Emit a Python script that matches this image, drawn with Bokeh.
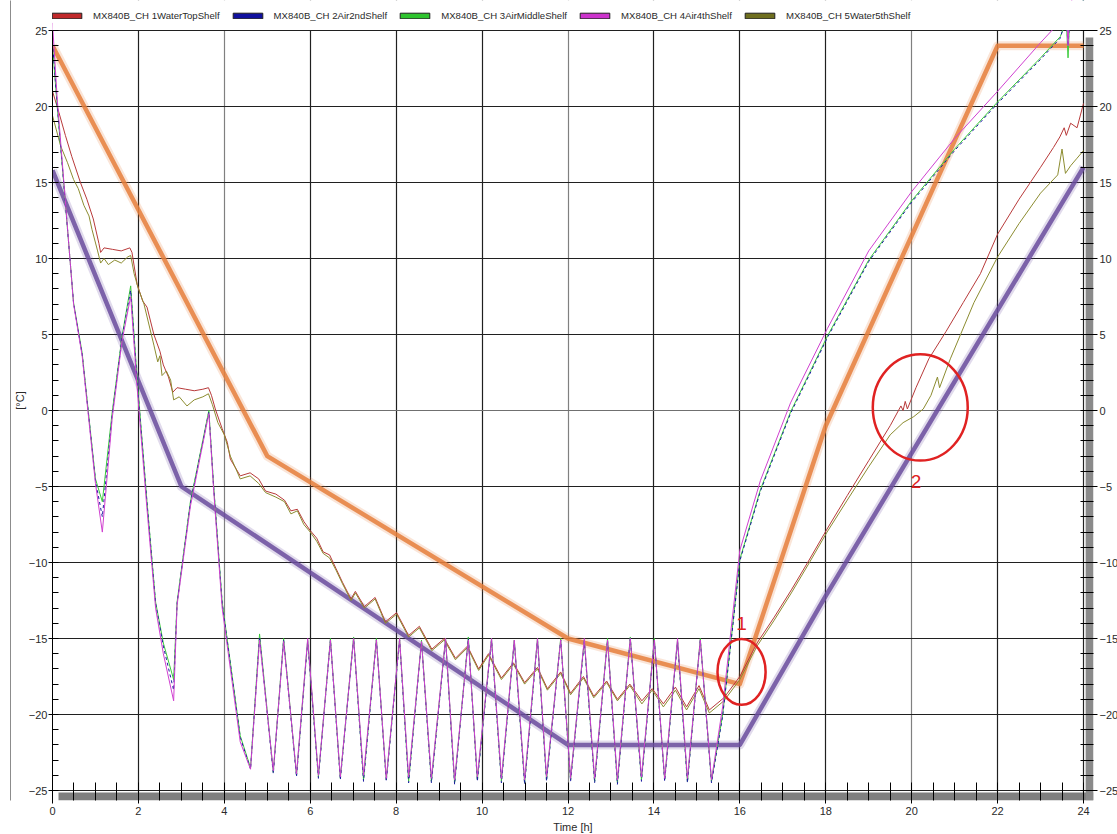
from bokeh.plotting import figure
from bokeh.models import (Legend, LegendItem, LinearAxis, SingleIntervalTicker,
                          Grid, FixedTicker, BoxAnnotation, Range1d)
from bokeh.core.properties import value
from bokeh.embed import file_html
from bokeh.resources import INLINE

FONT = "Liberation Sans"
NAN = float("nan")

# ---------------- data ----------------
channel_names = ["MX840B_CH 1WaterTopShelf", "MX840B_CH 2Air2ndShelf", "MX840B_CH 3AirMiddleShelf",
                 "MX840B_CH 4Air4thShelf", "MX840B_CH 5Water5thShelf"]
channel_colors = ["#C0282A", "#10109E", "#2EC42E", "#CC33CC", "#6E6E1E"]

# set-point profiles (thick lines)
orange_t = [0, 5, 12, 16, 18, 22, 24]
orange_T = [24, -3, -15, -18, -1, 24, 24]
purple_t = [0, 3, 12, 16, 18, 24]
purple_T = [15.8, -5, -22, -22, -12.2, 16]

# water channel 1 (top shelf)
red_t = [0.0, 0.15, 0.3, 0.45, 0.65, 0.8, 0.95, 1.08, 1.12, 1.2, 1.4, 1.6, 1.8, 1.85, 1.97, 2.1, 2.2,
         2.36, 2.5, 2.58, 2.7, 2.8, 2.9, 3.1, 3.3, 3.5, 3.63, 3.7, 3.79, 3.95, 4.07, 4.14, 4.37, 4.6,
         4.8, 4.96, 5.2, 5.4, 5.55, 5.7, 5.85, 6.0, 6.15, 6.3, 6.45, 6.6, 6.75, 6.95, 7.05,
         7.26, 7.51, 7.75, 8.01, 8.29, 8.54, 8.83, 9.12, 9.38, 9.66, 9.92, 10.15, 10.45, 10.73,
         10.99, 11.29, 11.52, 11.83, 12.06, 12.36, 12.60, 12.90, 13.15, 13.44, 13.72, 13.96, 14.22,
         14.50, 14.76, 15.05, 15.29, 15.63, 16.0, 16.4, 16.8, 17.2, 17.6, 18.03, 18.5, 19.0, 19.5,
         19.75, 19.8, 19.85, 19.9, 20.1, 20.4, 20.8, 21.2, 21.6, 22.0, 22.5, 23.0, 23.3, 23.45,
         23.55, 23.6, 23.7, 23.85, 24.0]
red_T = [21.0, 19.6, 18.1, 16.7, 15.0, 13.9, 12.6, 11.0, 10.4, 10.7, 10.6, 10.5, 10.7, 10.4, 8.3, 7.2, 6.8,
         5.0, 3.9, 3.0, 2.2, 1.2, 1.5, 1.4, 1.3, 1.4, 1.5, 1.0, 0.1, -1.2, -2.1, -3.2, -4.3, -4.1,
         -4.5, -5.3, -5.5, -5.9, -6.6, -6.5, -7.3, -7.9, -8.4, -9.3, -9.5, -10.4, -11.3, -12.4, -11.9,
         -12.9, -12.3, -13.9, -13.3, -14.8, -14.2, -15.7, -15.0, -16.3, -15.5, -17.0, -16.0, -17.6, -16.6,
         -17.9, -16.9, -18.3, -17.2, -18.6, -17.5, -18.8, -17.8, -19.0, -18.0, -19.1, -18.3, -19.3,
         -18.2, -19.5, -18.1, -19.7, -18.9, -17.5, -15.3, -13.6, -11.8, -9.9, -7.8, -5.6, -3.3, -1.0,
         0.3, 0.0, 0.6, 0.1, 1.5, 3.4, 5.2, 7.1, 9.0, 11.6, 13.9, 16.0, 17.3, 18.0,
         18.6, 18.1, 18.9, 18.6, 20.2]

# water channel 5 (5th shelf)
olive_t = [0.0, 0.19, 0.35, 0.49, 0.6, 0.73, 0.85, 0.92, 1.05, 1.12, 1.2, 1.3, 1.45, 1.6, 1.75, 1.82,
           1.9, 2.0, 2.13, 2.36, 2.45, 2.5, 2.55, 2.65, 2.75, 2.82, 2.95, 3.13, 3.3, 3.5, 3.63, 3.72,
           3.85, 4.0, 4.14, 4.37, 4.6, 4.8, 4.96, 5.2, 5.4, 5.55, 5.7, 5.85, 6.0, 6.15, 6.3, 6.45,
           6.6, 6.75, 6.95, 7.05, 7.26, 7.51, 7.75, 8.01, 8.29, 8.54, 8.83, 9.12, 9.38, 9.66, 9.92,
           10.15, 10.45, 10.73, 10.99, 11.29, 11.52, 11.83, 12.06, 12.36, 12.60, 12.90, 13.15, 13.44,
           13.72, 13.96, 14.22, 14.50, 14.76, 15.05, 15.29, 15.63, 16.0, 16.4, 16.8, 17.2, 17.6, 18.03,
           18.5, 19.0, 19.5, 19.8, 20.05, 20.27, 20.45, 20.6, 20.65, 20.9, 21.45, 22.0, 22.5, 23.0,
           23.4, 23.5, 23.58, 23.7, 23.85, 24.0]
olive_T = [19.4, 17.4, 16.3, 15.2, 14.6, 13.5, 12.8, 11.9, 10.5, 9.7, 10.0, 9.6, 9.9, 9.7, 10.1, 10.2,
           9.0, 8.0, 7.0, 4.3, 3.2, 3.6, 2.3, 2.6, 2.0, 0.7, 0.9, 0.3, 0.7, 0.9, 1.1, 0.4,
           -0.8, -1.6, -3.0, -4.5, -4.3, -4.8, -5.4, -5.7, -6.0, -6.8, -6.6, -7.5, -8.0, -8.6, -9.4, -9.7,
           -10.5, -11.4, -12.5, -12.0, -13.0, -12.4, -14.0, -13.4, -14.9, -14.3, -15.8, -15.1, -16.4, -15.6, -17.1,
           -16.1, -17.7, -16.7, -18.0, -17.0, -18.4, -17.3, -18.7, -17.6, -18.9, -17.9, -19.1, -18.1,
           -19.3, -18.4, -19.5, -18.4, -19.7, -18.3, -19.9, -19.1, -17.7, -15.5, -13.8, -12.0, -10.1, -8.0,
           -5.9, -3.7, -1.6, -0.8, -0.4, 0.1, 1.0, 2.2, 1.5, 3.4, 7.1, 10.1, 12.3, 14.3,
           15.5, 17.2, 15.6, 16.1, 16.6, 17.1]

# air channels 2, 3, 4 (shared sample times)
air_t = [0.0, 0.11, 0.26, 0.49, 0.69, 1.0, 1.16, 1.39, 1.62, 1.82, 1.97, 2.2, 2.4, 2.58, 2.82, 2.9,
         3.21, 3.64, 3.75, 3.95, 4.37,
         4.61, 4.82, 5.14, 5.38, 5.68, 5.94, 6.19, 6.47, 6.70, 7.01, 7.24, 7.54, 7.77, 8.08, 8.29,
         8.59, 8.82, 9.15, 9.36, 9.68, 9.89, 10.22, 10.45, 10.75, 10.99, 11.29, 11.50, 11.83, 12.06,
         12.38, 12.62, 12.92, 13.15, 13.45, 13.71, 14.01, 14.25, 14.55, 14.78, 15.08, 15.34,
         15.6, 15.8, 16.0, 16.48, 17.18, 18.04, 19.0, 20.0, 21.0, 22.0, 23.0, 23.46, 23.6, 23.64,
         23.68, 24.0]
green_T = [24.0, 20.0, 15.0, 7.1, 3.8, -4.5, -6.0, -0.1, 4.9, 8.2, 2.1, -6.0, -12.6, -15.3, -17.7, -12.6,
           -6.0, 0.0, -4.9, -12.6, -21.4,
           -23.5, -14.7, -23.8, -15.0, -24.0, -15.1, -24.1, -15.0, -24.2, -14.9, -24.3, -15.0, -24.3, -15.0, -24.4,
           -15.1, -24.4, -15.0, -24.5, -14.9, -24.3, -15.0, -24.4, -15.1, -24.5, -15.0, -24.3, -15.0, -24.3,
           -15.1, -24.4, -15.0, -24.5, -14.9, -24.3, -15.0, -24.3, -15.1, -24.4, -15.0, -24.4,
           -20.0, -15.0, -9.8, -5.2, -0.1, 4.9, 9.9, 13.8, 17.2, 20.3, 23.2, 24.6, 25.6, 23.2,
           25.8, 27.0]
blue_T = [24.2, 20.1, 15.0, 7.1, 3.7, -4.6, -7.0, -0.3, 4.8, 7.9, 1.9, -6.1, -12.7, -15.5, -18.4, -12.7,
          -6.1, -0.1, -5.0, -12.7, -21.5,
          -23.6, -14.9, -23.9, -15.1, -24.1, -15.2, -24.2, -15.1, -24.3, -15.0, -24.4, -15.1, -24.4, -15.1, -24.5,
          -15.2, -24.5, -15.1, -24.6, -15.0, -24.4, -15.1, -24.5, -15.2, -24.6, -15.1, -24.4, -15.1, -24.4,
          -15.2, -24.5, -15.1, -24.6, -15.0, -24.4, -15.1, -24.4, -15.2, -24.5, -15.1, -24.5,
          -20.1, -15.1, -9.9, -5.3, -0.2, 4.8, 9.8, 13.7, 17.1, 20.2, 23.1, 24.5, 25.9, 24.0,
          25.9, 27.0]
magenta_T = [25.5, 20.5, 15.2, 7.0, 3.6, -4.8, -8.0, -0.5, 4.6, 7.5, 1.5, -6.5, -13.0, -16.0, -19.1, -12.8,
             -6.3, -0.2, -5.2, -13.0, -21.8,
             -23.6, -15.1, -23.7, -15.2, -23.9, -15.0, -24.0, -15.1, -24.1, -15.0, -24.0, -15.1, -24.2, -15.0, -24.1,
             -15.2, -24.2, -15.0, -24.3, -15.1, -24.1, -15.0, -24.2, -15.1, -24.3, -15.0, -24.1, -15.1, -24.2,
             -15.0, -24.2, -15.1, -24.3, -15.0, -24.1, -15.1, -24.2, -15.0, -24.2, -15.1, -24.3,
             -19.5, -14.3, -9.2, -4.6, 0.5, 5.4, 10.5, 14.4, 17.9, 21.0, 24.2, 25.6, 26.5, 24.0,
             26.8, 28.0]

# hand-drawn red marks
circle_t = [16.04, 20.2]
circle_T = [-17.2, 0.2]
circle_w = [1.12, 2.21]
circle_h = [4.34, 7.0]
mark_t = [16.04, 20.1]
mark_T = [-14.0, -4.7]
mark_text = ["1", "2"]

# axis ticks / grid
x_dark_grid = [2, 6, 8, 10, 14, 16, 18, 22, 24]
x_grey_grid = [4, 12, 20]
y_dark_grid = [-25, -20, -15, -10, -5, 5, 10, 15, 20, 25]
y_grey_grid = [0]

# ---------------- figure ----------------
# frame = data area + 10 px grey "shadow" strip (right, bottom) + 30 px legend strip on top
PX_PER_H = 1031 / 24.0
PX_PER_C = 760 / 50.0
x_end = 24 + 10 / PX_PER_H
y_start = -25 - 10 / PX_PER_C
y_top = 25 + 30 / PX_PER_C

p = figure(frame_width=1041, frame_height=800, x_range=Range1d(0, x_end), y_range=Range1d(y_start, y_top),
           output_backend="svg", toolbar_location=None,
           min_border_left=52, min_border_right=24, min_border_top=0, min_border_bottom=34,
           background_fill_color="white", border_fill_color="white", outline_line_color=None)

p.xgrid.visible = False
p.ygrid.visible = False
for dim, ticks, col in [(0, x_dark_grid, "#202020"), (0, x_grey_grid, "#808080"),
                        (1, y_dark_grid, "#202020"), (1, y_grey_grid, "#707070")]:
    g = Grid(dimension=dim, ticker=FixedTicker(ticks=ticks), grid_line_color=col, grid_line_width=1.2)
    p.add_layout(g, "center")

# shadow strips (inside the extended frame, under the axes)
p.add_layout(BoxAnnotation(left=0.14, right=x_end, top=-25.13, bottom=y_start, fill_color="#7F7F7F",
                           fill_alpha=1.0, line_color=None, level="underlay"))
p.add_layout(BoxAnnotation(left=24.05, right=x_end, top=24.54, bottom=y_start, fill_color="#8A8A8A",
                           fill_alpha=1.0, line_color=None, level="underlay"))

xa = p.xaxis[0]
xa.ticker = SingleIntervalTicker(interval=2, num_minor_ticks=4)
xa.axis_label = "Time [h]"
ya = p.yaxis[0]
ya.ticker = SingleIntervalTicker(interval=5, num_minor_ticks=5)
ya.axis_label = "[°C]"
ra = LinearAxis(ticker=SingleIntervalTicker(interval=5, num_minor_ticks=5))
p.add_layout(ra, "right")

for ax in [xa, ya, ra]:
    ax.axis_line_color = "#000000"
    ax.major_tick_line_color = "#000000"
    ax.minor_tick_line_color = "#000000"
    ax.minor_tick_out = 0
    ax.major_label_text_font = FONT
    ax.major_label_text_font_size = "11px"
    ax.major_label_text_color = "#2A2A2A"
    ax.axis_label_text_font = FONT
    ax.axis_label_text_font_size = "11px"
    ax.axis_label_text_font_style = "normal"
    ax.axis_label_text_color = "#2A2A2A"

xa.axis_line_color = None
xa.major_tick_in = 10
xa.major_tick_out = 3
xa.minor_tick_in = 18
xa.major_label_standoff = 3
xa.axis_label_standoff = 3
ya.bounds = (y_start, 25)
ya.major_tick_in = 0
ya.major_tick_out = 4
ya.minor_tick_in = 6
ya.major_label_standoff = 1
ya.axis_label_standoff = 0
ra.bounds = (y_start, 25)
ra.axis_line_color = None
ra.major_tick_in = 10
ra.major_tick_out = 4
ra.minor_tick_in = 13
ra.major_label_standoff = 2

# thin grey panel border at the far left (an axis with only its line)
border_ax = LinearAxis(ticker=FixedTicker(ticks=[]), axis_line_color="#8C8C8C", major_tick_out=0,
                       major_tick_in=0, minor_tick_in=0, minor_tick_out=0, major_label_text_font_size="0px")
p.add_layout(border_ax, "left")

# set-point thick lines with soft edge
for ts, vs, col in [(orange_t, orange_T, "#E57F3C"), (purple_t, purple_T, "#6A4C9E")]:
    p.line(ts, vs, line_color=col, line_width=9, line_alpha=0.2, line_join="round")
    p.line(ts, vs, line_color=col, line_width=4.5, line_alpha=0.85, line_join="round")

# measured channels
p.line(red_t, red_T, line_color="#B83A3A", line_width=1)
p.line(olive_t, olive_T, line_color="#8C8C30", line_width=1)
p.line(air_t, green_T, line_color="#3ACB3A", line_width=1)
p.line(air_t, blue_T, line_color="#1A1AA0", line_width=1, line_dash="3 3")
p.line(air_t, magenta_T, line_color="#D040D0", line_width=1)

# red hand-drawn marks
p.ellipse(x=circle_t, y=circle_T, width=circle_w, height=circle_h, fill_color=None,
          line_color="#E02222", line_width=2.5)
p.text(x=mark_t, y=mark_T, text=mark_text, text_color="#E02222", text_font=value("Liberation Sans"),
       text_font_size="19px", text_align="center", text_baseline="middle")

# white cover over the legend strip (hides grid lines and traces above 25 degC)
p.add_layout(BoxAnnotation(bottom=25.04, fill_color="white", fill_alpha=1.0, line_color=None,
                           level="annotation"))

# legend in the top strip; swatch renderers hold one undrawable (NaN) row so the legend can paint them
items = []
for name, col in zip(channel_names, channel_colors):
    r = p.quad(left=[NAN], right=[NAN], top=[NAN], bottom=[NAN], fill_color=col,
               line_color="#202020", line_width=1)
    items.append(LegendItem(label=name, renderers=[r]))
legend = Legend(items=items, orientation="horizontal", location=(-4, 779), glyph_width=37, glyph_height=7,
                label_height=12, label_width=10, padding=0, margin=0, spacing=9, label_standoff=8,
                border_line_color=None, background_fill_alpha=0,
                label_text_font=FONT, label_text_font_size="9.6px", label_text_color="#2A2A2A")
p.add_layout(legend, "center")

open("out.html", "w").write(file_html(p, INLINE))
